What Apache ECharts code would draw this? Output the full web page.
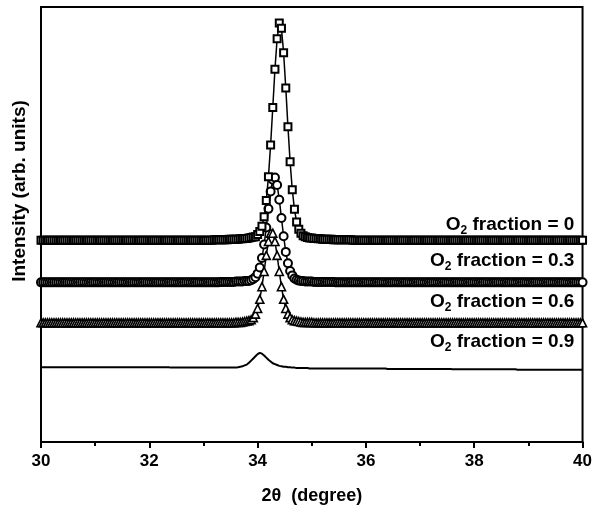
<!DOCTYPE html>
<html>
<head>
<meta charset="utf-8">
<script src="https://cdn.jsdelivr.net/npm/echarts@6/dist/echarts.min.js"></script>
<style>
  html, body { margin: 0; padding: 0; background: #fff; }
  #main { width: 595px; height: 511px; }
</style>
</head>
<body>
<div id="main"></div>
<script>
// 2theta sampling (degree), 0.04 step
var twoTheta = [
  30.00, 30.04, 30.08, 30.12, 30.16, 30.20, 30.24, 30.28, 30.32, 30.36,
  30.40, 30.44, 30.48, 30.52, 30.56, 30.60, 30.64, 30.68, 30.72, 30.76,
  30.80, 30.84, 30.88, 30.92, 30.96, 31.00, 31.04, 31.08, 31.12, 31.16,
  31.20, 31.24, 31.28, 31.32, 31.36, 31.40, 31.44, 31.48, 31.52, 31.56,
  31.60, 31.64, 31.68, 31.72, 31.76, 31.80, 31.84, 31.88, 31.92, 31.96,
  32.00, 32.04, 32.08, 32.12, 32.16, 32.20, 32.24, 32.28, 32.32, 32.36,
  32.40, 32.44, 32.48, 32.52, 32.56, 32.60, 32.64, 32.68, 32.72, 32.76,
  32.80, 32.84, 32.88, 32.92, 32.96, 33.00, 33.04, 33.08, 33.12, 33.16,
  33.20, 33.24, 33.28, 33.32, 33.36, 33.40, 33.44, 33.48, 33.52, 33.56,
  33.60, 33.64, 33.68, 33.72, 33.76, 33.80, 33.84, 33.88, 33.92, 33.96,
  34.00, 34.04, 34.08, 34.12, 34.16, 34.20, 34.24, 34.28, 34.32, 34.36,
  34.40, 34.44, 34.48, 34.52, 34.56, 34.60, 34.64, 34.68, 34.72, 34.76,
  34.80, 34.84, 34.88, 34.92, 34.96, 35.00, 35.04, 35.08, 35.12, 35.16,
  35.20, 35.24, 35.28, 35.32, 35.36, 35.40, 35.44, 35.48, 35.52, 35.56,
  35.60, 35.64, 35.68, 35.72, 35.76, 35.80, 35.84, 35.88, 35.92, 35.96,
  36.00, 36.04, 36.08, 36.12, 36.16, 36.20, 36.24, 36.28, 36.32, 36.36,
  36.40, 36.44, 36.48, 36.52, 36.56, 36.60, 36.64, 36.68, 36.72, 36.76,
  36.80, 36.84, 36.88, 36.92, 36.96, 37.00, 37.04, 37.08, 37.12, 37.16,
  37.20, 37.24, 37.28, 37.32, 37.36, 37.40, 37.44, 37.48, 37.52, 37.56,
  37.60, 37.64, 37.68, 37.72, 37.76, 37.80, 37.84, 37.88, 37.92, 37.96,
  38.00, 38.04, 38.08, 38.12, 38.16, 38.20, 38.24, 38.28, 38.32, 38.36,
  38.40, 38.44, 38.48, 38.52, 38.56, 38.60, 38.64, 38.68, 38.72, 38.76,
  38.80, 38.84, 38.88, 38.92, 38.96, 39.00, 39.04, 39.08, 39.12, 39.16,
  39.20, 39.24, 39.28, 39.32, 39.36, 39.40, 39.44, 39.48, 39.52, 39.56,
  39.60, 39.64, 39.68, 39.72, 39.76, 39.80, 39.84, 39.88, 39.92, 39.96,
  40.00
];

// intensity (arb. units, curves offset), O2 fraction = 0
var o2Frac0 = [
  46.4, 46.4, 46.4, 46.4, 46.4, 46.4, 46.4, 46.4, 46.4, 46.4,
  46.4, 46.4, 46.4, 46.4, 46.4, 46.4, 46.4, 46.4, 46.4, 46.4,
  46.4, 46.4, 46.4, 46.4, 46.4, 46.4, 46.4, 46.4, 46.4, 46.4,
  46.4, 46.4, 46.4, 46.4, 46.4, 46.4, 46.4, 46.4, 46.4, 46.4,
  46.4, 46.4, 46.4, 46.4, 46.4, 46.4, 46.4, 46.4, 46.4, 46.4,
  46.4, 46.4, 46.4, 46.4, 46.4, 46.4, 46.4, 46.4, 46.4, 46.4,
  46.4, 46.4, 46.4, 46.4, 46.4, 46.4, 46.4, 46.4, 46.4, 46.4,
  46.4, 46.4, 46.4, 46.4, 46.4, 46.4, 46.4, 46.4, 46.4, 46.4,
  46.5, 46.5, 46.5, 46.5, 46.5, 46.5, 46.5, 46.6, 46.6, 46.6,
  46.6, 46.6, 46.7, 46.7, 46.8, 46.8, 46.9, 47.0, 47.1, 47.2,
  47.7, 48.4, 49.6, 51.8, 55.5, 61.0, 68.3, 76.9, 85.7, 92.7,
  96.3, 95.1, 89.5, 81.4, 72.5, 64.4, 58.0, 53.5, 50.6, 48.9,
  48.0, 47.4, 47.2, 47.0, 46.9, 46.9, 46.8, 46.8, 46.7, 46.7,
  46.6, 46.6, 46.6, 46.6, 46.6, 46.5, 46.5, 46.5, 46.5, 46.5,
  46.5, 46.5, 46.5, 46.5, 46.4, 46.4, 46.4, 46.4, 46.4, 46.4,
  46.4, 46.4, 46.4, 46.4, 46.4, 46.4, 46.4, 46.4, 46.4, 46.4,
  46.4, 46.4, 46.4, 46.4, 46.4, 46.4, 46.4, 46.4, 46.4, 46.4,
  46.4, 46.4, 46.4, 46.4, 46.4, 46.4, 46.4, 46.4, 46.4, 46.4,
  46.4, 46.4, 46.4, 46.4, 46.4, 46.4, 46.4, 46.4, 46.4, 46.4,
  46.4, 46.4, 46.4, 46.4, 46.4, 46.4, 46.4, 46.4, 46.4, 46.4,
  46.4, 46.4, 46.4, 46.4, 46.4, 46.4, 46.4, 46.4, 46.4, 46.4,
  46.4, 46.4, 46.4, 46.4, 46.4, 46.4, 46.4, 46.4, 46.4, 46.4,
  46.4, 46.4, 46.4, 46.4, 46.4, 46.4, 46.4, 46.4, 46.4, 46.4,
  46.4, 46.4, 46.4, 46.4, 46.4, 46.4, 46.4, 46.4, 46.4, 46.4,
  46.4, 46.4, 46.4, 46.4, 46.4, 46.4, 46.4, 46.4, 46.4, 46.4,
  46.4
];

// O2 fraction = 0.3
var o2Frac03 = [
  36.7, 36.7, 36.7, 36.7, 36.7, 36.7, 36.7, 36.7, 36.7, 36.7,
  36.7, 36.7, 36.7, 36.7, 36.7, 36.7, 36.7, 36.7, 36.7, 36.7,
  36.7, 36.7, 36.7, 36.7, 36.7, 36.7, 36.7, 36.7, 36.7, 36.7,
  36.7, 36.7, 36.7, 36.7, 36.7, 36.7, 36.7, 36.7, 36.7, 36.7,
  36.7, 36.7, 36.7, 36.7, 36.7, 36.7, 36.7, 36.7, 36.7, 36.7,
  36.7, 36.7, 36.7, 36.7, 36.7, 36.7, 36.7, 36.7, 36.7, 36.7,
  36.7, 36.7, 36.7, 36.7, 36.7, 36.7, 36.7, 36.7, 36.7, 36.7,
  36.7, 36.7, 36.7, 36.7, 36.7, 36.7, 36.7, 36.7, 36.7, 36.7,
  36.7, 36.7, 36.7, 36.8, 36.8, 36.8, 36.8, 36.8, 36.8, 36.8,
  36.9, 36.9, 36.9, 36.9, 37.0, 37.0, 37.0, 37.2, 37.5, 37.9,
  38.7, 40.1, 42.3, 45.4, 49.3, 53.6, 57.6, 60.3, 60.8, 59.1,
  55.7, 51.5, 47.3, 43.7, 41.1, 39.3, 38.3, 37.6, 37.3, 37.1,
  37.0, 37.0, 36.9, 36.9, 36.9, 36.9, 36.8, 36.8, 36.8, 36.8,
  36.8, 36.8, 36.8, 36.8, 36.8, 36.8, 36.7, 36.7, 36.7, 36.7,
  36.7, 36.7, 36.7, 36.7, 36.7, 36.7, 36.7, 36.7, 36.7, 36.7,
  36.7, 36.7, 36.7, 36.7, 36.7, 36.7, 36.7, 36.7, 36.7, 36.7,
  36.7, 36.7, 36.7, 36.7, 36.7, 36.7, 36.7, 36.7, 36.7, 36.7,
  36.7, 36.7, 36.7, 36.7, 36.7, 36.7, 36.7, 36.7, 36.7, 36.7,
  36.7, 36.7, 36.7, 36.7, 36.7, 36.7, 36.7, 36.7, 36.7, 36.7,
  36.7, 36.7, 36.7, 36.7, 36.7, 36.7, 36.7, 36.7, 36.7, 36.7,
  36.7, 36.7, 36.7, 36.7, 36.7, 36.7, 36.7, 36.7, 36.7, 36.7,
  36.7, 36.7, 36.7, 36.7, 36.7, 36.7, 36.7, 36.7, 36.7, 36.7,
  36.7, 36.7, 36.7, 36.7, 36.7, 36.7, 36.7, 36.7, 36.7, 36.7,
  36.7, 36.7, 36.7, 36.7, 36.7, 36.7, 36.7, 36.7, 36.7, 36.7,
  36.7, 36.7, 36.7, 36.7, 36.7, 36.7, 36.7, 36.7, 36.7, 36.7,
  36.7
];

// O2 fraction = 0.6
var o2Frac06 = [
  27.4, 27.4, 27.4, 27.4, 27.4, 27.4, 27.4, 27.4, 27.4, 27.4,
  27.4, 27.4, 27.4, 27.4, 27.4, 27.4, 27.4, 27.4, 27.4, 27.4,
  27.4, 27.4, 27.4, 27.4, 27.4, 27.4, 27.4, 27.4, 27.4, 27.4,
  27.4, 27.4, 27.4, 27.4, 27.4, 27.4, 27.4, 27.4, 27.4, 27.4,
  27.4, 27.4, 27.4, 27.4, 27.4, 27.4, 27.4, 27.4, 27.4, 27.4,
  27.4, 27.4, 27.4, 27.4, 27.4, 27.4, 27.4, 27.4, 27.4, 27.4,
  27.4, 27.4, 27.4, 27.4, 27.4, 27.4, 27.4, 27.4, 27.4, 27.4,
  27.4, 27.4, 27.4, 27.4, 27.4, 27.4, 27.4, 27.4, 27.4, 27.4,
  27.4, 27.4, 27.4, 27.4, 27.4, 27.4, 27.4, 27.4, 27.4, 27.4,
  27.5, 27.5, 27.5, 27.6, 27.7, 27.8, 27.9, 28.1, 28.6, 29.4,
  30.7, 32.8, 35.7, 39.2, 42.9, 46.1, 48.0, 48.0, 46.1, 42.9,
  39.2, 35.7, 32.8, 30.7, 29.4, 28.6, 28.1, 27.9, 27.8, 27.7,
  27.6, 27.5, 27.5, 27.5, 27.5, 27.5, 27.4, 27.4, 27.4, 27.4,
  27.4, 27.4, 27.4, 27.4, 27.4, 27.4, 27.4, 27.4, 27.4, 27.4,
  27.4, 27.4, 27.4, 27.4, 27.4, 27.4, 27.4, 27.4, 27.4, 27.4,
  27.4, 27.4, 27.4, 27.4, 27.4, 27.4, 27.4, 27.4, 27.4, 27.4,
  27.4, 27.4, 27.4, 27.4, 27.4, 27.4, 27.4, 27.4, 27.4, 27.4,
  27.4, 27.4, 27.4, 27.4, 27.4, 27.4, 27.4, 27.4, 27.4, 27.4,
  27.4, 27.4, 27.4, 27.4, 27.4, 27.4, 27.4, 27.4, 27.4, 27.4,
  27.4, 27.4, 27.4, 27.4, 27.4, 27.4, 27.4, 27.4, 27.4, 27.4,
  27.4, 27.4, 27.4, 27.4, 27.4, 27.4, 27.4, 27.4, 27.4, 27.4,
  27.4, 27.4, 27.4, 27.4, 27.4, 27.4, 27.4, 27.4, 27.4, 27.4,
  27.4, 27.4, 27.4, 27.4, 27.4, 27.4, 27.4, 27.4, 27.4, 27.4,
  27.4, 27.4, 27.4, 27.4, 27.4, 27.4, 27.4, 27.4, 27.4, 27.4,
  27.4, 27.4, 27.4, 27.4, 27.4, 27.4, 27.4, 27.4, 27.4, 27.4,
  27.4
];

// O2 fraction = 0.9
var o2Frac09 = [
  17.2, 17.2, 17.2, 17.2, 17.2, 17.2, 17.2, 17.2, 17.2, 17.2,
  17.2, 17.2, 17.2, 17.2, 17.2, 17.2, 17.2, 17.2, 17.2, 17.2,
  17.2, 17.2, 17.2, 17.2, 17.2, 17.2, 17.2, 17.2, 17.2, 17.2,
  17.2, 17.2, 17.2, 17.2, 17.2, 17.2, 17.2, 17.2, 17.2, 17.2,
  17.2, 17.2, 17.2, 17.2, 17.2, 17.2, 17.2, 17.2, 17.2, 17.2,
  17.2, 17.2, 17.2, 17.2, 17.2, 17.2, 17.2, 17.2, 17.2, 17.2,
  17.1, 17.1, 17.1, 17.1, 17.1, 17.1, 17.1, 17.1, 17.1, 17.1,
  17.1, 17.1, 17.1, 17.1, 17.1, 17.1, 17.1, 17.1, 17.1, 17.1,
  17.1, 17.1, 17.1, 17.1, 17.1, 17.1, 17.1, 17.1, 17.1, 17.1,
  17.1, 17.2, 17.3, 17.4, 17.6, 17.8, 18.2, 18.7, 19.2, 19.7,
  20.2, 20.5, 20.3, 19.9, 19.4, 18.9, 18.5, 18.1, 17.9, 17.7,
  17.5, 17.4, 17.3, 17.3, 17.2, 17.2, 17.1, 17.1, 17.0, 17.0,
  17.0, 17.0, 17.0, 17.0, 16.9, 16.9, 16.9, 16.9, 16.9, 16.9,
  16.9, 16.9, 16.9, 16.9, 16.9, 16.9, 16.9, 16.9, 16.9, 16.9,
  16.9, 16.9, 16.9, 16.9, 16.9, 16.9, 16.9, 16.9, 16.9, 16.9,
  16.9, 16.9, 16.9, 16.9, 16.9, 16.9, 16.9, 16.9, 16.9, 16.9,
  16.8, 16.8, 16.8, 16.8, 16.8, 16.8, 16.8, 16.8, 16.8, 16.8,
  16.8, 16.8, 16.8, 16.8, 16.8, 16.8, 16.8, 16.8, 16.8, 16.8,
  16.8, 16.8, 16.8, 16.8, 16.8, 16.8, 16.8, 16.8, 16.8, 16.8,
  16.7, 16.7, 16.7, 16.7, 16.7, 16.7, 16.7, 16.7, 16.7, 16.7,
  16.7, 16.7, 16.7, 16.7, 16.7, 16.7, 16.7, 16.7, 16.7, 16.7,
  16.7, 16.7, 16.7, 16.7, 16.7, 16.7, 16.7, 16.7, 16.7, 16.7,
  16.6, 16.6, 16.6, 16.6, 16.6, 16.6, 16.6, 16.6, 16.6, 16.6,
  16.6, 16.6, 16.6, 16.6, 16.6, 16.6, 16.6, 16.6, 16.6, 16.6,
  16.6, 16.6, 16.6, 16.6, 16.6, 16.6, 16.6, 16.6, 16.6, 16.6,
  16.6
];

var seriesNames = ['0', '0.3', '0.6', '0.9'];
var labelY = [49.9, 41.6, 32.2, 23.0]; // vertical spot of each curve label (value units)
var xTicks = [30, 32, 34, 36, 38, 40];

var font = '"Liberation Sans", Arial, Helvetica, sans-serif';

function pairs(ys) {
  var out = [];
  for (var i = 0; i < twoTheta.length; i++) out.push([twoTheta[i], ys[i]]);
  return out;
}

var myChart = echarts.init(document.getElementById('main'));

myChart.setOption({
  animation: false,
  backgroundColor: '#fff',
  grid: {
    left: 41, right: 12, top: 7, bottom: 69,
    show: true, borderColor: '#000', borderWidth: 2
  },
  xAxis: {
    type: 'value',
    min: xTicks[0], max: xTicks[xTicks.length - 1], interval: 2,
    name: '2\u03b8  (degree)',
    nameLocation: 'middle',
    nameGap: 45,
    nameTextStyle: { fontFamily: font, fontWeight: 'bold', fontSize: 18, color: '#000' },
    axisLine: { lineStyle: { color: '#000', width: 2 } },
    axisTick: { inside: false, length: 6, lineStyle: { color: '#000', width: 2 } },
    minorTick: { show: true, splitNumber: 2, length: 4, lineStyle: { color: '#000', width: 2 } },
    axisLabel: { fontFamily: font, fontWeight: 'bold', fontSize: 17, color: '#000', margin: 11 },
    splitLine: { show: false }
  },
  yAxis: {
    type: 'value',
    min: 0, max: 100,
    axisLine: { show: true, lineStyle: { color: '#000', width: 2 } },
    axisTick: { show: false },
    axisLabel: { show: false },
    splitLine: { show: false }
  },
  series: [
    {
      name: seriesNames[0], type: 'line', data: pairs(o2Frac0),
      symbol: 'rect', symbolSize: 7, showAllSymbol: true,
      lineStyle: { color: '#000', width: 1.5 },
      itemStyle: { color: '#fff', borderColor: '#000', borderWidth: 2 },
      z: 3
    },
    {
      name: seriesNames[1], type: 'line', data: pairs(o2Frac03),
      symbol: 'circle', symbolSize: 8, showAllSymbol: true,
      lineStyle: { color: '#000', width: 1.5 },
      itemStyle: { color: '#fff', borderColor: '#000', borderWidth: 2 },
      z: 2
    },
    {
      name: seriesNames[2], type: 'line', data: pairs(o2Frac06),
      symbol: 'triangle', symbolSize: 8, showAllSymbol: true,
      lineStyle: { color: '#000', width: 1.5 },
      itemStyle: { color: '#fff', borderColor: '#000', borderWidth: 1.6 },
      z: 2
    },
    {
      name: seriesNames[3], type: 'line', data: pairs(o2Frac09),
      symbol: 'none',
      lineStyle: { color: '#000', width: 2 },
      z: 2
    }
  ]
});

// curve labels and the y axis title
var graphics = [];
for (var i = 0; i < seriesNames.length; i++) {
  var p = myChart.convertToPixel({ gridIndex: 0 }, [39.85, labelY[i]]);
  graphics.push({
    type: 'text', x: p[0], y: p[1], z: 10,
    style: {
      text: '{b|O}{s|2}{b| fraction = ' + seriesNames[i] + '}',
      align: 'right', verticalAlign: 'middle',
      rich: {
        b: { fontFamily: font, fontWeight: 'bold', fontSize: 19, lineHeight: 24, fill: '#000' },
        s: { fontFamily: font, fontWeight: 'bold', fontSize: 12, lineHeight: 4, verticalAlign: 'bottom', fill: '#000' }
      }
    }
  });
}
graphics.push({
  type: 'text', x: 20, y: 191, rotation: Math.PI / 2,
  style: {
    text: 'Intensity (arb. units)',
    fontFamily: font, fontWeight: 'bold', fontSize: 19, fill: '#000',
    align: 'center', verticalAlign: 'middle'
  }
});
myChart.setOption({ graphic: graphics });
</script>
</body>
</html>
